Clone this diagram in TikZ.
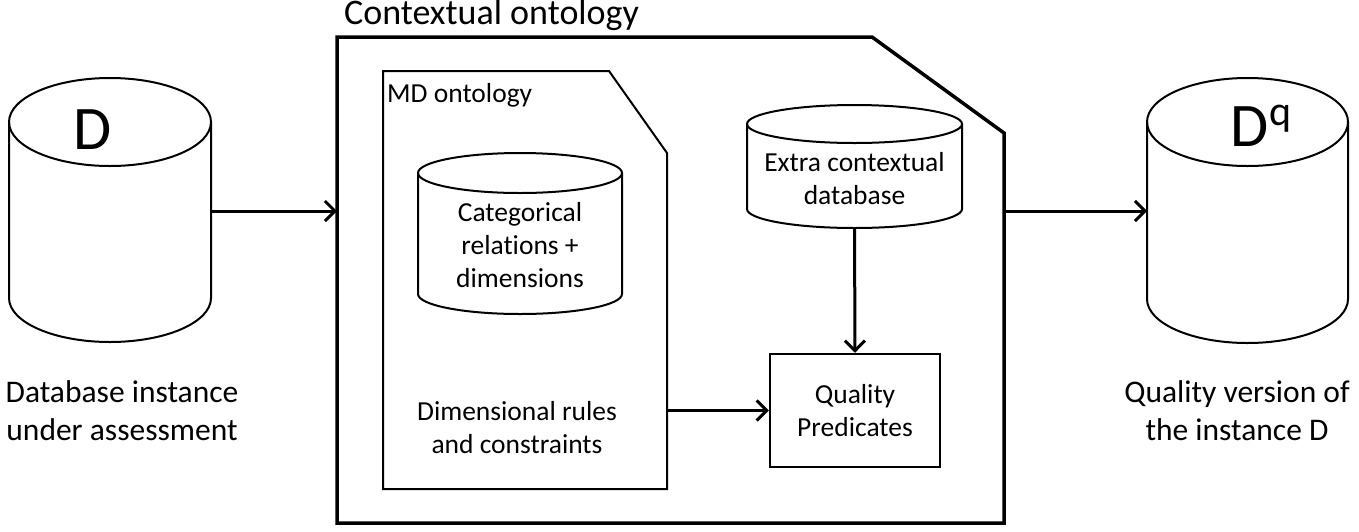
\documentclass[tikz,border=0pt]{standalone}
\usepackage{fontspec}
\setmainfont{Carlito}[Ligatures=NoCommon]
\usetikzlibrary{arrows.meta}
\newcommand{\dbcyl}[5]{%
  \draw[cylline,fill=white] (#1-#4,#2) -- (#1-#4,#3) arc[start angle=180,end angle=360,x radius=#4,y radius=#5] -- (#1+#4,#2);
  \draw[cylline] (#1,#2) ellipse[x radius=#4, y radius=#5];
}
\begin{document}
\begin{tikzpicture}[x=1pt,y=1pt,
  conn/.style={line width=3pt,-{Straight Barb[length=10pt,width=20pt,line width=3pt]}},
  cylline/.style={line width=2pt},
  frameline/.style={line width=3.5pt,line join=miter},
  mdline/.style={line width=2pt,line join=miter},
  anchorbox/.style={inner sep=0pt,outer sep=0pt},
  bigtxt/.style={font=\fontsize{31.5}{38}\selectfont,align=center},
  midtxt/.style={font=\fontsize{27.5}{33}\selectfont,align=center},
]
\useasboundingbox (0,0) rectangle (1359,-531);

% outer contextual ontology frame
\node[anchorbox,minimum width=667pt,minimum height=486pt] (ctx) at (670.5,-280) {};
\draw[frameline] (ctx.south west) -- (ctx.north west) -- (872,-37) -- (1004,-133) -- (ctx.south east) -- cycle;
\node[anchor=west,font=\fontsize{36}{40}\selectfont,inner sep=0pt] (title) at (344,-15) {Contextual ontology};

% MD ontology
\node[anchorbox,minimum width=284pt,minimum height=418pt] (md) at (525,-280) {};
\draw[mdline] (md.south west) -- (md.north west) -- (609,-71) -- (667,-153) -- (md.south east) -- cycle;
\node[anchor=west,font=\fontsize{27.5}{30}\selectfont,inner sep=0pt] (mdlabel) at (387,-95) {MD ontology};

% cylinders
\dbcyl{110}{-122}{-298}{101}{44}
\node[anchorbox,minimum width=202pt,minimum height=220pt] (dbL) at (110,-211) {};
\node[font=\fontsize{62}{62}\selectfont,inner sep=0pt] (dlab) at (93,-130) {D};

\dbcyl{1247.5}{-122}{-299}{100.5}{44}
\node[anchorbox,minimum width=201pt,minimum height=220pt] (dbR) at (1247.5,-211) {};
\node[font=\fontsize{62}{62}\selectfont,inner sep=0pt] (dqlab) at (1261,-126) {D\raisebox{21pt}{\fontsize{42}{42}\selectfont q}};

\dbcyl{520}{-173}{-294}{102}{20}
\node[anchorbox,minimum width=204pt,minimum height=162pt,midtxt] (cat) at (520,-245) {Categorical\\relations +\\dimensions};

\dbcyl{854.5}{-124}{-209}{107.5}{19}
\node[anchorbox,minimum width=215pt,minimum height=123pt] (ecdb) at (854.5,-166.5) {};
\node[midtxt] (ectxt) at (854.5,-178.5) {Extra contextual\\database};

% quality predicates
\node[draw,line width=2.5pt,minimum width=170pt,minimum height=113pt,midtxt] (qp) at (855,-410.5) {Quality\\Predicates};

\node[midtxt] (dimtxt) at (517,-427.5) {Dimensional rules\\and constraints};

% labels
\node[bigtxt] (lblL) at (122,-411) {Database instance\\under assessment};
\node[bigtxt] (lblR) at (1237,-411) {Quality version of\\the instance D};

% connectors
\draw[conn] (dbL.east) -- (dbL.east -| ctx.west);
\draw[conn] (dbR.west -| ctx.east) -- (dbR.west);
\draw[conn] (ecdb.south) -- (qp.north);
\draw[conn] (qp.west -| md.east) -- (qp.west);
\end{tikzpicture}
\end{document}
